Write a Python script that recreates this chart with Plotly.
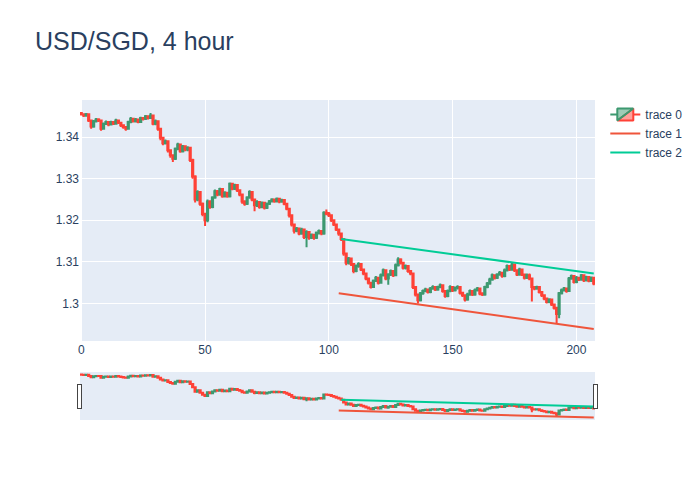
import plotly.graph_objects as go

opens = [1.3458,1.3455,1.3452,1.3455,1.3440,1.3425,1.3438,1.3442,1.3440,1.3420,
1.3432,1.3436,1.3430,1.3436,1.3432,1.3440,1.3434,1.3428,1.3424,1.3420,
1.3436,1.3444,1.3438,1.3442,1.3436,1.3446,1.3444,1.3450,1.3446,1.3452,
1.3432,1.3438,1.3420,1.3398,1.3385,1.3390,1.3368,1.3356,1.3348,1.3372,
1.3382,1.3366,1.3378,1.3370,1.3374,1.3345,1.3305,1.3250,1.3268,1.3240,
1.3215,1.3200,1.3245,1.3232,1.3255,1.3270,1.3262,1.3275,1.3258,1.3266,
1.3258,1.3288,1.3276,1.3285,1.3272,1.3262,1.3245,1.3240,1.3255,1.3268,
1.3250,1.3236,1.3244,1.3232,1.3242,1.3230,1.3240,1.3246,1.3250,1.3246,
1.3252,1.3245,1.3249,1.3240,1.3228,1.3212,1.3190,1.3175,1.3180,1.3168,
1.3178,1.3160,1.3172,1.3158,1.3165,1.3158,1.3170,1.3174,1.3168,1.3218,
1.3216,1.3212,1.3200,1.3190,1.3178,1.3168,1.3155,1.3120,1.3098,1.3108,
1.3095,1.3078,1.3090,1.3095,1.3082,1.3072,1.3060,1.3050,1.3040,1.3055,
1.3062,1.3050,1.3068,1.3080,1.3060,1.3070,1.3078,1.3068,1.3092,1.3106,
1.3098,1.3086,1.3090,1.3078,1.3072,1.3040,1.3022,1.3008,1.3025,1.3030,
1.3034,1.3028,1.3036,1.3040,1.3034,1.3040,1.3044,1.3030,1.3018,1.3030,
1.3040,1.3032,1.3038,1.3040,1.3026,1.3020,1.3010,1.3022,1.3030,1.3022,
1.3032,1.3036,1.3024,1.3022,1.3040,1.3048,1.3058,1.3068,1.3062,1.3070,
1.3074,1.3066,1.3080,1.3090,1.3082,1.3094,1.3080,1.3070,1.3082,1.3070,
1.3062,1.3068,1.3060,1.3040,1.3036,1.3040,1.3028,1.3020,1.3012,1.3004,
1.3010,1.2998,1.2990,1.2975,1.3025,1.3032,1.3036,1.3030,1.3060,1.3066,
1.3052,1.3062,1.3058,1.3068,1.3056,1.3064,1.3055,1.3062]

closes = [1.3455,1.3452,1.3455,1.3440,1.3425,1.3438,1.3442,1.3440,1.3420,1.3432,
1.3436,1.3430,1.3436,1.3432,1.3440,1.3434,1.3428,1.3424,1.3420,1.3436,
1.3444,1.3438,1.3442,1.3436,1.3446,1.3444,1.3450,1.3446,1.3452,1.3432,
1.3438,1.3420,1.3398,1.3385,1.3390,1.3368,1.3356,1.3348,1.3372,1.3382,
1.3366,1.3378,1.3370,1.3374,1.3345,1.3305,1.3250,1.3268,1.3240,1.3215,
1.3200,1.3245,1.3232,1.3255,1.3270,1.3262,1.3275,1.3258,1.3266,1.3258,
1.3288,1.3276,1.3285,1.3272,1.3262,1.3245,1.3240,1.3255,1.3268,1.3250,
1.3236,1.3244,1.3232,1.3242,1.3230,1.3240,1.3246,1.3250,1.3246,1.3252,
1.3245,1.3249,1.3240,1.3228,1.3212,1.3190,1.3175,1.3180,1.3168,1.3178,
1.3160,1.3172,1.3158,1.3165,1.3158,1.3170,1.3174,1.3168,1.3218,1.3216,
1.3212,1.3200,1.3190,1.3178,1.3168,1.3155,1.3120,1.3098,1.3108,1.3095,
1.3078,1.3090,1.3095,1.3082,1.3072,1.3060,1.3050,1.3040,1.3055,1.3062,
1.3050,1.3068,1.3080,1.3060,1.3070,1.3078,1.3068,1.3092,1.3106,1.3098,
1.3086,1.3090,1.3078,1.3072,1.3040,1.3022,1.3008,1.3025,1.3030,1.3034,
1.3028,1.3036,1.3040,1.3034,1.3040,1.3044,1.3030,1.3018,1.3030,1.3040,
1.3032,1.3038,1.3040,1.3026,1.3020,1.3010,1.3022,1.3030,1.3022,1.3032,
1.3036,1.3024,1.3022,1.3040,1.3048,1.3058,1.3068,1.3062,1.3070,1.3074,
1.3066,1.3080,1.3090,1.3082,1.3094,1.3080,1.3070,1.3082,1.3070,1.3062,
1.3068,1.3060,1.3040,1.3036,1.3040,1.3028,1.3020,1.3012,1.3004,1.3010,
1.2998,1.2990,1.2975,1.3025,1.3032,1.3036,1.3030,1.3060,1.3066,1.3052,
1.3062,1.3058,1.3068,1.3056,1.3064,1.3055,1.3062,1.3048]

highs = [1.3460,1.3457,1.3458,1.3457,1.3442,1.3441,1.3446,1.3445,1.3442,1.3435,
1.3440,1.3438,1.3439,1.3438,1.3444,1.3442,1.3436,1.3430,1.3426,1.3439,
1.3448,1.3446,1.3446,1.3444,1.3449,1.3448,1.3453,1.3452,1.3458,1.3454,
1.3442,1.3440,1.3422,1.3400,1.3394,1.3392,1.3370,1.3358,1.3375,1.3386,
1.3384,1.3381,1.3380,1.3378,1.3376,1.3348,1.3308,1.3272,1.3270,1.3243,
1.3218,1.3250,1.3248,1.3258,1.3274,1.3273,1.3278,1.3277,1.3270,1.3268,
1.3291,1.3290,1.3288,1.3287,1.3274,1.3264,1.3248,1.3258,1.3272,1.3270,
1.3252,1.3248,1.3246,1.3245,1.3244,1.3243,1.3249,1.3253,1.3252,1.3255,
1.3254,1.3252,1.3251,1.3242,1.3230,1.3214,1.3192,1.3184,1.3182,1.3182,
1.3180,1.3176,1.3174,1.3168,1.3167,1.3173,1.3178,1.3176,1.3222,1.3226,
1.3220,1.3214,1.3202,1.3192,1.3180,1.3170,1.3157,1.3122,1.3112,1.3110,
1.3097,1.3094,1.3099,1.3097,1.3084,1.3074,1.3062,1.3052,1.3058,1.3066,
1.3064,1.3072,1.3084,1.3082,1.3073,1.3082,1.3080,1.3096,1.3111,1.3109,
1.3100,1.3094,1.3092,1.3080,1.3074,1.3042,1.3024,1.3028,1.3034,1.3038,
1.3036,1.3040,1.3044,1.3042,1.3043,1.3048,1.3046,1.3032,1.3034,1.3044,
1.3042,1.3041,1.3044,1.3042,1.3028,1.3022,1.3026,1.3034,1.3032,1.3036,
1.3040,1.3038,1.3027,1.3043,1.3052,1.3062,1.3072,1.3070,1.3073,1.3078,
1.3076,1.3084,1.3094,1.3092,1.3098,1.3096,1.3082,1.3086,1.3084,1.3072,
1.3072,1.3072,1.3062,1.3042,1.3043,1.3042,1.3030,1.3022,1.3014,1.3013,
1.3012,1.3000,1.2992,1.3028,1.3036,1.3040,1.3038,1.3064,1.3070,1.3068,
1.3066,1.3064,1.3071,1.3070,1.3067,1.3066,1.3065,1.3064]

lows = [1.3452,1.3448,1.3449,1.3436,1.3420,1.3422,1.3435,1.3436,1.3415,1.3418,
1.3429,1.3426,1.3428,1.3429,1.3430,1.3431,1.3424,1.3420,1.3415,1.3418,
1.3433,1.3435,1.3435,1.3433,1.3434,1.3440,1.3441,1.3442,1.3444,1.3428,
1.3428,1.3415,1.3392,1.3380,1.3382,1.3363,1.3350,1.3340,1.3345,1.3368,
1.3362,1.3363,1.3366,1.3366,1.3340,1.3300,1.3243,1.3246,1.3235,1.3210,
1.3186,1.3195,1.3228,1.3229,1.3252,1.3258,1.3259,1.3254,1.3255,1.3254,
1.3255,1.3272,1.3273,1.3268,1.3258,1.3240,1.3235,1.3237,1.3252,1.3246,
1.3222,1.3232,1.3228,1.3229,1.3226,1.3227,1.3237,1.3243,1.3242,1.3243,
1.3241,1.3242,1.3236,1.3224,1.3207,1.3185,1.3168,1.3171,1.3164,1.3165,
1.3155,1.3135,1.3153,1.3155,1.3153,1.3155,1.3166,1.3164,1.3165,1.3212,
1.3208,1.3196,1.3186,1.3174,1.3163,1.3150,1.3115,1.3092,1.3094,1.3090,
1.3073,1.3075,1.3086,1.3078,1.3068,1.3056,1.3046,1.3036,1.3038,1.3052,
1.3046,1.3048,1.3065,1.3056,1.3045,1.3066,1.3064,1.3066,1.3089,1.3094,
1.3082,1.3082,1.3074,1.3068,1.3035,1.3017,1.3000,1.3005,1.3021,1.3027,
1.3024,1.3025,1.3033,1.3030,1.3031,1.3037,1.3026,1.3014,1.3015,1.3027,
1.3028,1.3029,1.3034,1.3022,1.3016,1.3005,1.3007,1.3019,1.3018,1.3019,
1.3029,1.3020,1.3018,1.3019,1.3037,1.3045,1.3055,1.3058,1.3059,1.3067,
1.3062,1.3063,1.3077,1.3078,1.3079,1.3076,1.3066,1.3067,1.3066,1.3058,
1.3059,1.3056,1.3005,1.3032,1.3033,1.3024,1.3016,1.3008,1.3000,1.3001,
1.2994,1.2986,1.2952,1.2965,1.3022,1.3029,1.3026,1.3028,1.3057,1.3048,
1.3049,1.3054,1.3055,1.3052,1.3053,1.3051,1.3052,1.3044]

support_x = [104, 207]
support_y = [1.3025, 1.2939]
resistance_x = [105, 207]
resistance_y = [1.3155, 1.3072]

idx = list(range(len(closes)))

fig = go.Figure()
fig.add_trace(go.Candlestick(x=idx, open=opens, high=highs, low=lows, close=closes,
                             name="trace 0"))
fig.add_trace(go.Scatter(x=support_x, y=support_y, mode="lines", name="trace 1",
                         line=dict(color="#EF553B")))
fig.add_trace(go.Scatter(x=resistance_x, y=resistance_y, mode="lines", name="trace 2",
                         line=dict(color="#00CC96")))
fig.update_layout(title=dict(text="USD/SGD, 4 hour", font=dict(size=25)),
                  font=dict(family="Liberation Sans, Arial, sans-serif"),
                  width=700, height=500, template="plotly")
fig.write_html("out.html")
